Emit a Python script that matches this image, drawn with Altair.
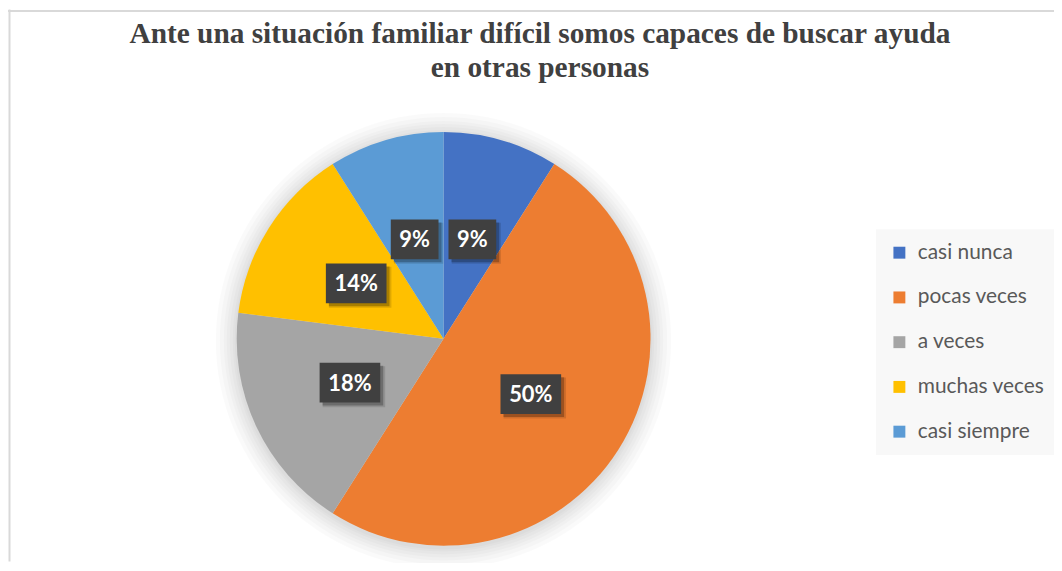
import math
import altair as alt
import pandas as pd

categories = ["casi nunca", "pocas veces", "a veces", "muchas veces", "casi siempre"]
values = [9, 50, 18, 14, 9]
colors = ["#4472C4", "#ED7D31", "#A5A5A5", "#FFC000", "#5B9BD5"]
title_lines = [
    "Ante una situación familiar difícil somos capaces de buscar ayuda",
    "en otras personas",
]

W, H = 1052, 555
CX, CY, R = 438, 331, 208
LR = 104

df = pd.DataFrame({"category": categories, "value": values,
                   "order": list(range(len(categories)))})
one = pd.DataFrame({"g": [1]})

# soft halo around the pie
glows = [
    alt.Chart(one).mark_arc(radius=R + k, theta=0, theta2=2 * math.pi,
                            color="#000000", opacity=0.02)
    .encode(x=alt.value(CX), y=alt.value(CY + 2))
    for k in (2, 4, 7, 10, 13, 17, 21)
]

pie = alt.Chart(df).mark_arc(radius=R).encode(
    x=alt.value(CX), y=alt.value(CY),
    theta=alt.Theta("value:Q", stack=True),
    order=alt.Order("order:Q"),
    color=alt.Color(
        "category:N",
        scale=alt.Scale(domain=categories, range=colors),
        legend=alt.Legend(
            title=None, orient="none", legendX=873, legendY=221,
            fillColor="#f8f8f8", padding=13, symbolType="square",
            symbolSize=144, symbolStrokeWidth=0, labelFont="Lato",
            labelFontSize=21, labelColor="#595959", labelOffset=8,
            rowPadding=23, labelLimit=300,
        ),
    ),
)

lab = (
    alt.Chart(df)
    .transform_joinaggregate(total="sum(value)")
    .transform_window(cum="sum(value)", sort=[alt.SortField("order")], frame=[None, 0])
    .transform_calculate(ang="(datum.cum - datum.value/2)/datum.total*2*PI")
    .transform_calculate(lx=f"{CX} + {LR}*sin(datum.ang)")
    .transform_calculate(ly=f"{CY} - {LR}*cos(datum.ang)")
    .transform_calculate(label="datum.value + '%'")
    .transform_calculate(box="length(datum.label) > 2 ? 'l' : 's'")
)

xs = alt.X("lx:Q", scale=alt.Scale(domain=[0, W], nice=False, zero=False), axis=None)
ys = alt.Y("ly:Q", scale=alt.Scale(domain=[0, H], nice=False, zero=False, reverse=True), axis=None)
path_s = "M-1.2,-1L1.2,-1L1.2,1L-1.2,1Z"
path_l = "M-1.525,-1L1.525,-1L1.525,1L-1.525,1Z"
shp = alt.Shape("box:N", scale=alt.Scale(domain=["s", "l"], range=[path_s, path_l]), legend=None)

shadow1 = lab.mark_point(filled=True, size=1700, color="#000000", opacity=0.12,
                         xOffset=4, yOffset=4, strokeWidth=0).encode(x=xs, y=ys, shape=shp)
shadow2 = lab.mark_point(filled=True, size=1600, color="#000000", opacity=0.25,
                         xOffset=3, yOffset=3, strokeWidth=0).encode(x=xs, y=ys, shape=shp)
boxes = lab.mark_point(filled=True, size=1600, color="#404040", opacity=1,
                       strokeWidth=0).encode(x=xs, y=ys, shape=shp)
texts = lab.mark_text(font="Lato", fontSize=22, fontWeight="bold", color="#ffffff",
                      baseline="middle", align="center", dy=1).encode(x=xs, y=ys, text="label:N")

t1 = alt.Chart(one).mark_text(text=title_lines[0], font="Liberation Serif", fontSize=29.5,
                              fontWeight="bold", color="#404040", align="center",
                              baseline="alphabetic").encode(x=alt.value(535), y=alt.value(34))
t2 = alt.Chart(one).mark_text(text=title_lines[1], font="Liberation Serif", fontSize=29.5,
                              fontWeight="bold", color="#404040", align="center",
                              baseline="alphabetic").encode(x=alt.value(535), y=alt.value(68))

top = alt.Chart(one).mark_rule(color="#d9d9d9", strokeWidth=2).encode(
    x=alt.value(0), x2=alt.value(W), y=alt.value(1.5))
left = alt.Chart(one).mark_rule(color="#d9d9d9", strokeWidth=2).encode(
    x=alt.value(1.5), y=alt.value(0), y2=alt.value(H))

chart = alt.layer(*glows, pie, shadow1, shadow2, boxes, texts, t1, t2, top, left).properties(
    width=W, height=H, padding=0, autosize=alt.AutoSizeParams(type="none"),
    background="#ffffff",
).configure_view(stroke="transparent")

chart.save("out.html", embed_options={"renderer": "svg", "actions": False})
